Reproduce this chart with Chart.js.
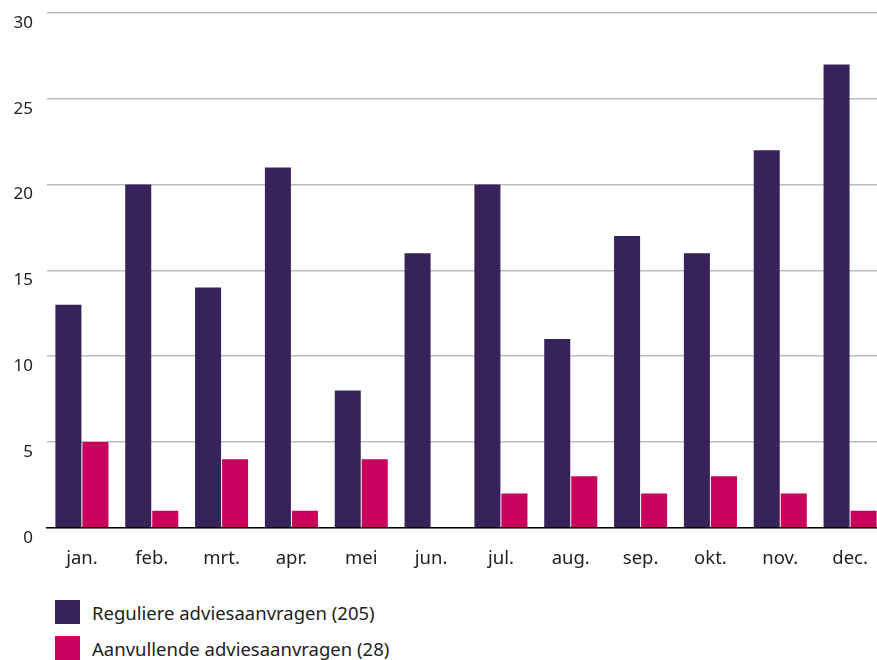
<!DOCTYPE html>
<html>
<head>
<meta charset="utf-8">
<script src="https://cdn.jsdelivr.net/npm/chart.js@4"></script>
<style>
  html, body { margin: 0; padding: 0; background: #fff; overflow: hidden; }
  #wrap { position: relative; width: 885px; height: 590px; }
  #legend { position: absolute; left: 55px; top: 594px; font-family: "Noto Sans", sans-serif; font-size: 18.5px; color: #222; }
  .item { display: flex; align-items: center; height: 36px; }
  .swatch { width: 25px; height: 24px; margin-right: 12px; }
</style>
</head>
<body>
<div id="wrap"><canvas id="adviesChart"></canvas></div>
<div id="legend"></div>
<script>
// maanden
const months = ['jan.', 'feb.', 'mrt.', 'apr.', 'mei', 'jun.', 'jul.', 'aug.', 'sep.', 'okt.', 'nov.', 'dec.'];
const regulier = [13, 20, 14, 21, 8, 16, 20, 11, 17, 16, 22, 27];
const aanvullend = [5, 1, 4, 1, 4, 0, 2, 3, 2, 3, 2, 1];
const seriesNames = ['Reguliere adviesaanvragen (205)', 'Aanvullende adviesaanvragen (28)'];
const seriesColors = ['#38225A', '#CA005D'];

const ctx = document.getElementById('adviesChart').getContext('2d');

new Chart(ctx, {
  type: 'bar',
  data: {
    labels: months,
    datasets: [
      { label: seriesNames[0], data: regulier, backgroundColor: seriesColors[0] },
      { label: seriesNames[1], data: aanvullend, backgroundColor: seriesColors[1] }
    ]
  },
  options: {
    responsive: true,
    maintainAspectRatio: false,
    animation: false,
    categoryPercentage: 0.774,
    barPercentage: 0.963,
    layout: { padding: { top: 13, right: 0, left: 0, bottom: 0 } },
    plugins: {
      legend: { display: false },
      tooltip: { enabled: false }
    },
    scales: {
      x: {
        afterFit: function (axis) {
          axis.paddingLeft = 0;
          axis.paddingRight = 0;
        },
        grid: { display: false, drawTicks: false },
        border: { color: '#000', width: 1.5 },
        ticks: {
          color: '#222',
          padding: 20,
          font: { family: 'Noto Sans', size: 18.5 }
        }
      },
      y: {
        min: 0,
        max: 30,
        afterFit: function (axis) {
          axis.width = 47;
          axis.paddingTop = 0;
          axis.paddingBottom = 0;
        },
        grid: { color: '#bdbdbd', lineWidth: 1.5, drawTicks: false },
        border: { display: false },
        ticks: {
          stepSize: 5,
          color: '#222',
          padding: 14,
          labelOffset: 10,
          font: { family: 'Noto Sans', size: 17 }
        }
      }
    }
  }
});

// legenda in twee regels
const legend = document.getElementById('legend');
seriesNames.forEach(function (name, i) {
  const row = document.createElement('div');
  row.className = 'item';
  const sw = document.createElement('div');
  sw.className = 'swatch';
  sw.style.background = seriesColors[i];
  const txt = document.createElement('span');
  txt.textContent = name;
  row.appendChild(sw);
  row.appendChild(txt);
  legend.appendChild(row);
});
</script>
</body>
</html>
